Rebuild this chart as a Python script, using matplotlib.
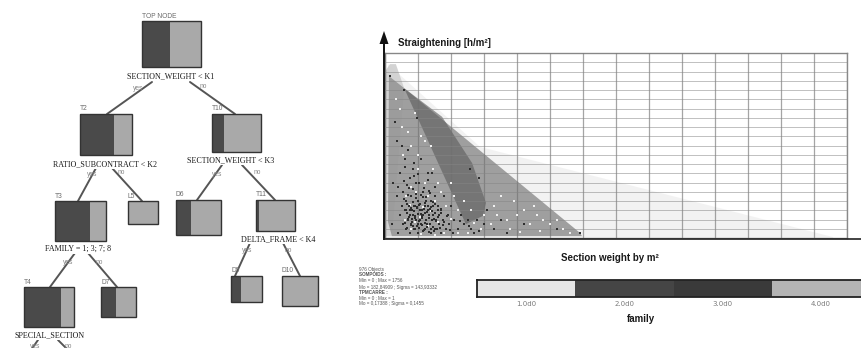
import matplotlib
matplotlib.use("Agg")
import matplotlib.pyplot as plt
from matplotlib.patches import Rectangle, Polygon
from matplotlib.colors import ListedColormap
import numpy as np

# ---------------- decision tree ----------------
node_names = ["TOP NODE", "T2", "T10", "T3", "L5", "D6", "T11", "T4", "D7", "D9", "D10"]
dark_share = [0.47, 0.65, 0.24, 0.69, 0.0, 0.33, 0.08, 0.74, 0.43, 0.32, 0.0]
split_rules = ["SECTION_WEIGHT < K1", "RATIO_SUBCONTRACT < K2", "SECTION_WEIGHT < K3",
               "FAMILY = 1; 3; 7; 8", "DELTA_FRAME < K4", "SPECIAL_SECTION"]

# ---------------- scatter: hulls per family ----------------
hull_faint_x = [9, 288, 1358, 1358, 0]
hull_faint_y = [37.6, 19.7, 0.2, 0.0, 0.0]
hull_light_x = [3, 15, 33, 58, 21, 3]
hull_light_y = [36.3, 37.6, 37.6, 32.4, 0.4, 0.4]
hull_mid_x = [12, 58, 591, 597, 21, 9]
hull_mid_y = [35.0, 32.4, 1.1, 0.4, 0.4, 3.5]
hull_dark_x = [58, 173, 264, 306, 297, 245]
hull_dark_y = [32.4, 26.2, 16.2, 7.6, 4.8, 3.0]

dark_pts_x = [15, 58, 97, 36, 50, 70, 60, 110, 258, 85, 45, 75, 130, 95, 40, 150, 55, 115, 80, 180,
              35, 65, 100, 140, 200, 50, 90, 120, 160, 75, 60, 105, 130, 170, 45, 85, 115, 145, 190, 230,
              70, 95, 125, 155, 175, 210, 250, 280, 55, 80, 110, 135, 165, 195, 240, 300, 65, 90, 120, 150,
              185, 220, 260, 330, 40, 75, 100, 140, 170, 205, 270, 370, 590, 520, 420, 350, 310, 286, 20, 25,
              30, 68, 78, 88, 98, 108, 118, 128, 138, 72, 82, 92, 102, 112, 122, 132, 142, 152, 162, 66,
              84, 104, 124, 144, 94, 114, 134, 74, 58, 88, 62, 100, 116, 86, 146, 176, 196, 226, 256, 286,
              62, 70, 76, 83, 91, 99, 106, 113, 121, 127, 134, 141, 148, 155, 163, 171, 179, 187,
              65, 73, 81, 89, 97, 105, 113, 121, 129, 137, 145, 153, 161, 169,
              68, 79, 87, 96, 103, 111, 119, 126, 133, 139, 147, 157, 166,
              59, 71, 93, 109, 123, 137, 151, 67, 85, 103, 119, 99, 131, 87, 143]
dark_pts_y = [35, 32, 26, 21, 20, 19, 17, 17, 15, 15, 14, 13, 14, 12, 11, 11, 10, 10, 9, 9,
              9, 8, 8, 8, 7, 7, 7, 7, 7, 6, 6, 6, 6, 6, 5, 5, 5, 5, 5, 5,
              4, 4, 4, 4, 4, 4, 4, 4, 3, 3, 3, 3, 3, 3, 3, 3, 2, 2, 2, 2,
              2, 2, 2, 2, 1, 1, 1, 1, 1, 1, 1, 1, 1, 2, 3, 4, 6, 13, 3, 12,
              25, 5.5, 6.5, 5.8, 6.8, 5.2, 6.2, 5.6, 6.6, 4.6, 4.2, 4.8, 3.6, 4.4, 3.2, 4.9, 3.8, 5.3, 4.5, 7.4,
              7.8, 7.2, 8.1, 7.7, 9.6, 8.8, 10.2, 10.8, 12.4, 13.3, 15.4, 3.0, 1.6, 2.6, 2.4, 2.8, 1.8, 3.6, 2.6, 1.5,
              3.3, 4.1, 5.0, 3.5, 4.4, 5.1, 3.9, 4.7, 5.4, 3.1, 4.3, 5.9, 4.1, 3.7, 5.0, 6.3, 3.4, 4.7,
              6.0, 6.9, 6.1, 7.0, 6.4, 7.3, 6.0, 7.5, 7.0, 6.2, 6.9, 7.4, 6.0, 5.3,
              2.2, 2.8, 1.9, 2.5, 2.1, 2.9, 1.8, 2.3, 1.4, 2.0, 1.6, 1.9, 2.2,
              8.4, 9.2, 8.7, 9.4, 8.9, 9.8, 9.1, 11.4, 10.6, 11.9, 10.9, 13.8, 12.6, 16.3, 14.1]

light_pts_x = [32, 45, 90, 110, 140, 120, 50, 70, 145, 160, 200, 55, 100, 80, 120, 170, 210, 240, 65, 95,
               130, 150, 185, 220, 260, 330, 300, 340, 370, 400, 420, 440, 460, 480, 500, 540, 560, 350, 380, 320,
               290, 250, 220, 180, 150, 110, 80, 60, 90, 130, 160, 105, 140, 75, 115, 200, 270, 410, 470, 520,
               450, 390, 100, 80]
light_pts_y = [30, 28, 27, 22, 20, 21, 24, 23, 15, 12, 12, 18, 15, 11, 12, 10, 9, 8, 9, 10,
               9, 8, 7, 6, 6, 7, 5, 5, 4, 5, 6, 3, 5, 4, 3, 2, 1, 9, 2, 3,
               2, 1, 1, 1, 0.6, 0.8, 2, 4, 3.5, 2.5, 3.4, 4.6, 5.8, 7.2, 6.6, 4.2, 3.2, 1.3, 1.6, 4,
               7, 8, 18, 20]

# ---------------- legend ----------------
family_values = [1.0, 2.0, 3.0, 4.0]
family_labels = ["1.0d0", "2.0d0", "3.0d0", "4.0d0"]
family_colors = ["#e6e6e6", "#454545", "#3a3a3a", "#b4b4b4"]
stats_lines = ["976 Objects", "SOMPOIDS :", "Min = 0 ; Max = 1756",
               "Mo = 182,84909 ; Sigma = 143,93332", "TPMCARRE :",
               "Min = 0 ; Max = 1", "Mo = 0,17388 ; Sigma = 0,1455"]

W, H = 861, 348
fig = plt.figure(figsize=(W / 100, H / 100), dpi=100)

# base layer in pixel coordinates for the tree and free text
base = fig.add_axes([0, 0, 1, 1])
base.set_xlim(0, W)
base.set_ylim(H, 0)
base.axis("off")

SERIF = ["Liberation Serif", "DejaVu Serif"]
SANS = ["Liberation Sans", "DejaVu Sans"]

box_layout = [(142, 21, 59, 46), (80, 114, 52, 41), (212, 114, 49, 38), (55, 201, 51, 40),
              (128, 201, 30, 23), (176, 200, 45, 35), (256, 200, 39, 31), (24, 287, 50, 40),
              (101, 287, 35, 30), (231, 276, 31, 26), (282, 276, 36, 30)]
rule_pos = [(171, 76), (105, 164), (231, 160), (78, 249), (278, 239), (50, 335)]
edges = [((152, 82), (107, 114)), ((190, 82), (235, 114)),
         ((96, 168), (78, 201)), ((112, 168), (142, 201)),
         ((222, 165), (197, 200)), ((242, 165), (275, 200)),
         ((75, 253), (50, 287)), ((88, 253), (117, 287)),
         ((250, 243), (235, 276)), ((283, 243), (300, 276)),
         ((38, 340), (31, 350)), ((58, 340), (68, 350))]
yes_no = [("yes", 138, 88), ("no", 203, 87), ("yes", 92, 174), ("no", 121, 173),
          ("yes", 217, 175), ("no", 257, 172), ("yes", 68, 262), ("no", 99, 262),
          ("yes", 247, 251), ("no", 288, 251), ("yes", 35, 346), ("no", 68, 346)]

for (p0, p1) in edges:
    base.plot([p0[0], p1[0]], [p0[1], p1[1]], color="#555555", lw=1.4, zorder=1,
              solid_capstyle="round")

for name, share, (x0, y0, w, h) in zip(node_names, dark_share, box_layout):
    dw = w * share
    if dw > 0:
        base.add_patch(Rectangle((x0, y0), dw, h, facecolor="#4a4a4a", edgecolor="none", zorder=2))
    base.add_patch(Rectangle((x0 + dw, y0), w - dw, h, facecolor="#a9a9a9", edgecolor="none", zorder=2))
    base.add_patch(Rectangle((x0, y0), w, h, facecolor="none", edgecolor="#333333", lw=1.0, zorder=3))
    base.text(x0, y0 - 1.5, name, fontsize=4.8, color="#6a6a6a", family=SANS,
              ha="left", va="bottom", zorder=3)

for rule, (cx, cy) in zip(split_rules, rule_pos):
    base.text(cx, cy, rule, fontsize=5.8, family=SERIF, color="#1a1a1a", ha="center", va="center",
              zorder=4, bbox=dict(facecolor="white", edgecolor="none", pad=1.0))

for word, tx, ty in yes_no:
    base.text(tx, ty, word, fontsize=4.8, family=SANS, color="#888888", ha="center", va="center",
              zorder=4)

# ---------------- scatter panel ----------------
ax = fig.add_axes([385 / W, 1 - 238 / H, 462 / W, 185 / H])
ax.set_xlim(0, 1400)
ax.set_ylim(0, 40)
ax.set_xticks(np.arange(0, 1401, 100))
ax.set_yticks(np.arange(0, 41, 2))
ax.tick_params(length=0, labelbottom=False, labelleft=False)
ax.set_axisbelow(False)
ax.grid(True, axis="x", color="#6f6f6f", lw=0.9, alpha=0.62, zorder=2)
ax.grid(True, axis="y", color="#858585", lw=0.7, alpha=0.52, zorder=2)
for s in ax.spines.values():
    s.set_color("#8a8a8a")
    s.set_linewidth(1.0)

hulls = [(hull_faint_x, hull_faint_y, "#e4e4e4", 0.45),
         (hull_light_x, hull_light_y, "#cfcfcf", 0.9),
         (hull_mid_x, hull_mid_y, "#969696", 0.9),
         (hull_dark_x, hull_dark_y, "#5a5a5a", 0.6)]
for hx, hy, col, al in hulls:
    ax.add_patch(Polygon(np.column_stack([hx, hy]), closed=True, facecolor=col,
                         edgecolor="none", alpha=al, zorder=1))

ax.scatter(light_pts_x, light_pts_y, s=3.2, marker="s", color="#f0f0f0", linewidths=0, zorder=3)
ax.scatter(dark_pts_x, dark_pts_y, s=3.2, marker="s", color="#2e2e2e", linewidths=0, zorder=4)

# ---------------- family legend bar ----------------
seg = 98.3
cax = fig.add_axes([477 / W, 1 - 297 / H, 4 * seg / W, 17 / H])
cmap = ListedColormap(family_colors)
cax.imshow(np.array([family_values]), cmap=cmap, aspect="auto", extent=(0.5, 4.5, 0, 1),
           vmin=0.5, vmax=4.5)
cax.set_xlim(0.5, 4.5)
cax.set_xticks(family_values)
cax.set_xticklabels(family_labels)
cax.set_yticks([])
cax.tick_params(axis="x", length=0, pad=3, labelsize=5, labelcolor="#7a7a7a")
for s in cax.spines.values():
    s.set_color("#222222")
    s.set_linewidth(1.3)

# ---------------- axis arrows and titles ----------------
top = fig.add_axes([0, 0, 1, 1], zorder=10)
top.set_xlim(0, W)
top.set_ylim(H, 0)
top.axis("off")
top.patch.set_alpha(0)
top.plot([384, 384], [239, 42], color="#111111", lw=1.4)
top.plot([384, 861], [238.5, 238.5], color="#222222", lw=1.2)
top.add_patch(Polygon([[379.5, 44], [388.5, 44], [384, 31]], closed=True, facecolor="#111111",
                      edgecolor="none"))

top.text(398, 43, "Straightening [h/m\u00b2]", fontsize=7, fontweight="bold", family=SANS,
         color="#1a1a1a", ha="left", va="center")
top.text(610, 258, "Section weight by m\u00b2", fontsize=7, fontweight="bold", family=SANS,
         color="#1a1a1a", ha="center", va="center")
top.text(641, 319, "family", fontsize=7, fontweight="bold", family=SANS,
         color="#1a1a1a", ha="center", va="center")

stat_y = [270, 275, 280, 287, 292, 298, 303]
for line, yy in zip(stats_lines, stat_y):
    bold = line.endswith(":")
    top.text(359, yy, line, fontsize=3.3, family=SANS, color="#555555",
             fontweight="bold" if bold else "normal", ha="left", va="center")

fig.savefig("out.png", dpi=100)
